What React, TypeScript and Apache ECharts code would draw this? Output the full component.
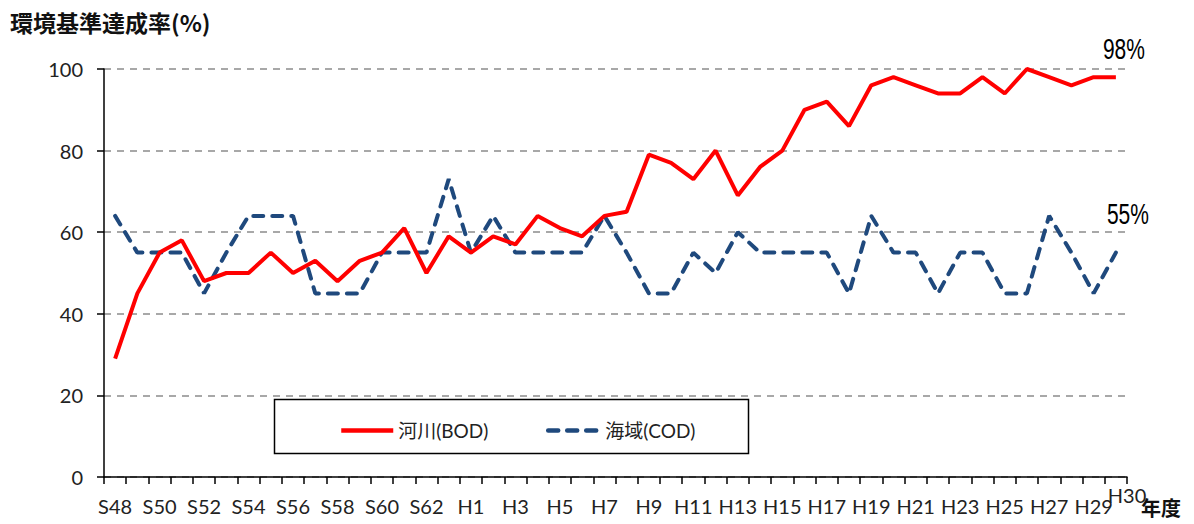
import React, { useEffect, useRef } from 'react';
import * as echarts from 'echarts';

const categories = [
  'S48', 'S49', 'S50', 'S51', 'S52', 'S53', 'S54', 'S55', 'S56', 'S57', 'S58', 'S59', 'S60', 'S61', 'S62', 'S63',
  'H1', 'H2', 'H3', 'H4', 'H5', 'H6', 'H7', 'H8', 'H9', 'H10', 'H11', 'H12', 'H13', 'H14', 'H15',
  'H16', 'H17', 'H18', 'H19', 'H20', 'H21', 'H22', 'H23', 'H24', 'H25', 'H26', 'H27', 'H28', 'H29', 'H30',
];

const riverBOD = [
  29, 45, 55, 58, 48, 50, 50, 55, 50, 53, 48, 53, 55, 61, 50, 59,
  55, 59, 57, 64, 61, 59, 64, 65, 79, 77, 73, 80, 69, 76, 80,
  90, 92, 86, 96, 98, 96, 94, 94, 98, 94, 100, 98, 96, 98, 98,
];

const seaCOD = [
  64, 55, 55, 55, 45, 55, 64, 64, 64, 45, 45, 45, 55, 55, 55, 73,
  55, 64, 55, 55, 55, 55, 64, 55, 45, 45, 55, 50, 60, 55, 55,
  55, 55, 45, 64, 55, 55, 45, 55, 55, 45, 45, 64, 55, 45, 55,
];

const seriesNames = ['河川(BOD)', '海域(COD)'];
const yTitle = '環境基準達成率(%)';
const xTitle = '年度';
const yMin = 0;
const yMax = 100;
const yStep = 20;

export default function App() {
  const ref = useRef<HTMLDivElement>(null);

  useEffect(() => {
    document.body.style.margin = '0';
    const chart = echarts.init(ref.current as HTMLDivElement, null, { renderer: 'svg' });
    const font = "Lato, 'Noto Sans CJK JP', sans-serif";
    const cjk = "'Noto Sans CJK JP', sans-serif";
    const last = categories.length - 1;

    const staticGraphics: any[] = [
      {
        id: 'legendBox',
        type: 'rect',
        z: 3,
        shape: { x: 274.5, y: 399.5, width: 474, height: 54 },
        style: { fill: '#ffffff', stroke: '#000', lineWidth: 1.5 },
      },
      {
        id: 'yTitle',
        type: 'text',
        x: 10,
        y: 22,
        style: {
          text: yTitle,
          fill: '#111',
          fontSize: 23,
          fontWeight: 'bold',
          fontFamily: cjk,
          textAlign: 'left',
          align: 'left',
          textVerticalAlign: 'middle',
          verticalAlign: 'middle',
        },
      },
      {
        id: 'lastCat',
        type: 'text',
        x: 1127,
        y: 495,
        style: {
          text: categories[last],
          fill: '#222',
          fontSize: 20,
          fontFamily: font,
          textAlign: 'center',
          align: 'center',
          textVerticalAlign: 'middle',
          verticalAlign: 'middle',
        },
      },
      {
        id: 'xTitle',
        type: 'text',
        x: 1141,
        y: 507,
        style: {
          text: xTitle,
          fill: '#111',
          fontSize: 20,
          fontWeight: 'bold',
          fontFamily: cjk,
          textAlign: 'left',
          align: 'left',
          textVerticalAlign: 'middle',
          verticalAlign: 'middle',
        },
      },
    ];

    chart.setOption({
      animation: false,
      backgroundColor: '#ffffff',
      grid: { left: 104, right: 67, top: 69, bottom: 47, containLabel: false },
      xAxis: {
        type: 'category',
        data: categories,
        boundaryGap: true,
        axisLine: { lineStyle: { color: '#000', width: 1.5 } },
        axisTick: { show: true, interval: 0, length: 7, lineStyle: { color: '#000', width: 1.5 } },
        axisLabel: {
          interval: (i: number) => i % 2 === 0 && i !== last,
          margin: 19,
          color: '#222',
          fontSize: 20,
          fontFamily: font,
        },
        splitLine: { show: false },
      },
      yAxis: {
        type: 'value',
        min: yMin,
        max: yMax,
        interval: yStep,
        axisLine: { show: true, lineStyle: { color: '#000', width: 1.5 } },
        axisTick: { show: true, length: 7, lineStyle: { color: '#000', width: 1.5 } },
        axisLabel: { margin: 21, color: '#222', fontSize: 20, fontFamily: font },
        splitLine: { show: true, lineStyle: { color: '#8c8c8c', width: 1.5, type: [7, 6] } },
      },
      legend: {
        data: seriesNames,
        left: 334,
        top: 416,
        itemWidth: 52,
        itemHeight: 14,
        itemGap: 58,
        itemStyle: { color: 'transparent', borderColor: 'transparent', borderWidth: 0 },
        lineStyle: { width: 4.5 },
        textStyle: { fontSize: 19, fontFamily: font, color: '#222' },
        z: 5,
      },
      series: [
        {
          name: seriesNames[0],
          type: 'line',
          data: riverBOD,
          symbol: 'none',
          lineStyle: { color: '#ff0000', width: 4 },
          itemStyle: { color: '#ff0000' },
          z: 3,
        },
        {
          name: seriesNames[1],
          type: 'line',
          data: seaCOD,
          symbol: 'none',
          lineStyle: { color: '#1f497d', width: 4, type: [10, 9], cap: 'round' },
          itemStyle: { color: '#1f497d' },
          z: 2,
        },
      ],
      graphic: staticGraphics,
    });

    const endLabel = (id: string, seriesIndex: number, values: number[], dx: number, dy: number) => {
      const p = chart.convertToPixel({ seriesIndex }, [last, values[last]]) as number[];
      return {
        id,
        type: 'text',
        x: p[0] + dx,
        y: p[1] + dy,
        scaleX: 0.7,
        z: 10,
        style: {
          text: values[last] + '%',
          fill: '#000',
          fontSize: 30,
          fontFamily: "'Liberation Sans', Arial, sans-serif",
          textAlign: 'center',
          align: 'center',
          textVerticalAlign: 'middle',
          verticalAlign: 'middle',
        },
      };
    };

    chart.setOption({
      graphic: [
        ...staticGraphics,
        endLabel('riverEnd', 0, riverBOD, 8, -29),
        endLabel('seaEnd', 1, seaCOD, 12, -39),
      ],
    });

    return () => chart.dispose();
  }, []);

  return <div ref={ref} style={{ width: 1194, height: 524 }} />;
}
